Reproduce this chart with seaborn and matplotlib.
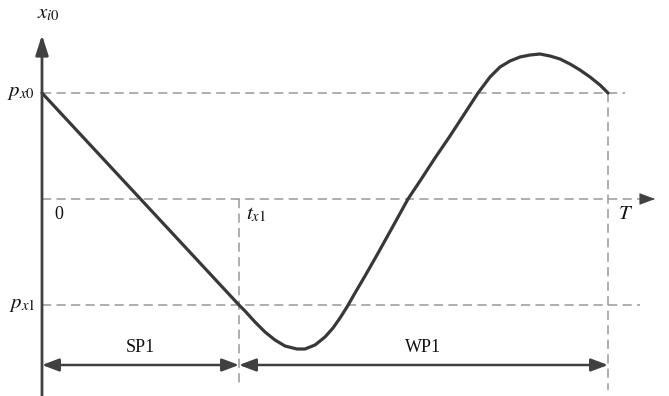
import matplotlib
matplotlib.use("Agg")
import matplotlib.pyplot as plt
import seaborn as sns
import pandas as pd

# Trajectory of x_i0 over one period (time, value)
t_curve = [0, 197, 203, 213, 223, 233, 243, 255, 263, 273, 283, 291, 298, 305,
           313, 323, 335, 350, 366, 378, 393, 408, 423, 436, 448, 458, 468, 478,
           488, 498, 508, 518, 528, 538, 548, 558, 566]
x_curve = [106, -106, -112, -123, -133, -141, -147, -150, -150, -146, -138, -129,
           -119, -108, -94, -77, -56, -29, 0, 18, 41, 63, 86, 106, 122, 132, 138,
           142, 144, 145, 143, 140, 135, 129, 122, 114, 106]

# Reference levels and instants
p_levels = [106, -106]          # p_x0, p_x1
p_labels = [r"$p_{x0}$", r"$p_{x1}$"]
t_x1 = 197
T_end = 566
period_names = ["SP1", "WP1"]
period_bounds = [(0, t_x1), (t_x1, T_end)]

sns.set_style("white")
plt.rcParams["font.family"] = ["Liberation Serif", "DejaVu Serif"]
plt.rcParams["mathtext.fontset"] = "stix"

fig = plt.figure(figsize=(6.69, 3.96), dpi=100)
ax = fig.add_axes([0, 0, 1, 1])

dark = "#404040"
dash_col = "#999999"
dash_kw = dict(color=dash_col, lw=1.1, dashes=(6, 3.5))

# Dashed guide lines
ax.plot([0, 612], [0, 0], **dash_kw)
ax.plot([0, 583], [p_levels[0], p_levels[0]], **dash_kw)
ax.plot([0, 598], [p_levels[1], p_levels[1]], **dash_kw)
ax.plot([t_x1, t_x1], [0, -186], **dash_kw)
ax.plot([T_end, T_end], [p_levels[0], -191], **dash_kw)

# Time axis arrowhead
ax.annotate("", xy=(613, 0), xytext=(603, 0),
            arrowprops=dict(arrowstyle="-|>,head_length=0.85,head_width=0.32",
                            mutation_scale=12, color=dark, lw=0.5,
                            shrinkA=0, shrinkB=0))

# Vertical axis with arrow
ax.annotate("", xy=(0, 164), xytext=(0, -197),
            arrowprops=dict(arrowstyle="-|>,head_length=1.0,head_width=0.32",
                            mutation_scale=12, color=dark, lw=2.0,
                            shrinkA=0, shrinkB=0))

# Trajectory
df = pd.DataFrame({"t": t_curve, "x": x_curve})
sns.lineplot(data=df, x="t", y="x", sort=False, color="#383838", lw=2.3,
             solid_joinstyle="round", solid_capstyle="round", ax=ax)
ax.axis("off")
ax.set_xlim(-42, 627)
ax.set_ylim(-197, 199)

# Period dimension arrows
for name, (a, b) in zip(period_names, period_bounds):
    ax.annotate("", xy=(b, -166), xytext=(a, -166),
                arrowprops=dict(arrowstyle="<|-|>,head_length=0.85,head_width=0.32",
                                mutation_scale=12, color=dark, lw=1.8,
                                shrinkA=0, shrinkB=0))
    ax.text((a + b) / 2, -153, name, ha="center", va="baseline", fontsize=13,
            color="#111111")

# Labels
ax.text(-5, 181, r"$x_{i0}$", ha="left", va="baseline", fontsize=15, color="#111111")
for lv, lab in zip(p_levels, p_labels):
    ax.text(-7, lv, lab, ha="right", va="center", fontsize=15, color="#111111")
ax.text(17, -16, "0", ha="center", va="center", fontsize=13, color="#111111")
ax.text(204, -16, r"$t_{x1}$", ha="left", va="center", fontsize=15, color="#111111")
ax.text(584, -16, r"$T$", ha="center", va="center", fontsize=15, color="#111111")

fig.savefig("out.png", dpi=100)
